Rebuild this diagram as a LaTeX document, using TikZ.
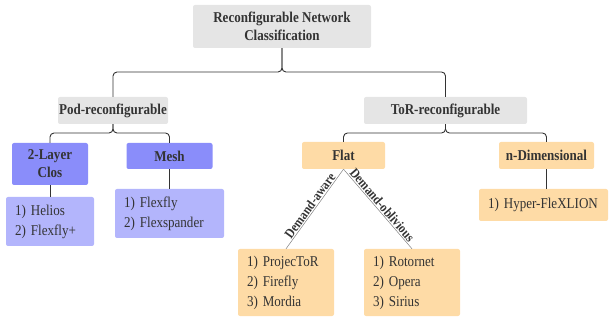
\documentclass[tikz,border=0pt]{standalone}
\usepackage{fontspec}
\setmainfont{Liberation Serif}[FakeStretch=0.87]
\definecolor{txt}{HTML}{333333}
\definecolor{greyfill}{HTML}{E5E5E5}
\definecolor{bluedark}{HTML}{8A8DFA}
\definecolor{bluelight}{HTML}{B3B5FC}
\definecolor{orangefill}{HTML}{FEDBA6}
\definecolor{linecol}{HTML}{333333}
\tikzset{
  catbox/.style={rounded corners=2pt, inner sep=0pt, text=txt, align=center,
    font=\bfseries\fontsize{15}{18}\selectfont},
  listbox/.style={rounded corners=2pt, inner ysep=0pt, inner xsep=9pt, text=txt, align=left,
    font=\fontsize{15}{20}\selectfont},
  conn/.style={draw=linecol, line width=0.9pt, rounded corners=4pt},
  diag/.style={draw=gray, line width=0.5pt},
  lab/.style={text=txt, font=\bfseries\fontsize{13.5}{13.5}\selectfont, inner sep=1pt}
}
\begin{document}
\begin{tikzpicture}[x=1pt,y=-1pt]
\useasboundingbox (0,0) rectangle (610,320);
% category boxes
\node[catbox, fill=greyfill, minimum width=178pt, minimum height=43pt] (root) at (282,26.5) {Reconfigurable Network\\Classification};
\node[catbox, fill=greyfill, minimum width=110pt, minimum height=27pt] (pod) at (113,110.5) {Pod-reconfigurable};
\node[catbox, fill=greyfill, minimum width=163pt, minimum height=27pt] (tor) at (445.5,110.5) {ToR-reconfigurable};
\node[catbox, fill=bluedark, minimum width=76pt, minimum height=42pt] (clos) at (50,164) {2-Layer\\Clos};
\node[catbox, fill=bluedark, minimum width=86pt, minimum height=26pt] (mesh) at (169.5,156) {Mesh};
\node[catbox, fill=orangefill, minimum width=83pt, minimum height=27pt] (flat) at (343.5,155.5) {Flat};
\node[catbox, fill=orangefill, minimum width=95pt, minimum height=27pt] (ndim) at (546.5,155.5) {n-Dimensional};
% list boxes
\node[listbox, fill=bluelight, text width=70pt, minimum height=49pt] (helios) at (50,221.5) {1) Helios\\2) Flexfly+};
\node[listbox, fill=bluelight, text width=91pt, minimum height=49pt] (flexfly) at (169.5,213.5) {1) Flexfly\\2) Flexspander};
\node[listbox, fill=orangefill, text width=111pt, minimum height=32pt] (hyper) at (543.5,205) {1) Hyper-FleXLION};
\node[listbox, fill=orangefill, text width=78pt, minimum height=67pt] (projector) at (286,282.5) {1) ProjecToR\\2) Firefly\\3) Mordia};
\node[listbox, fill=orangefill, text width=78pt, minimum height=67pt] (rotornet) at (412,282.5) {1) Rotornet\\2) Opera\\3) Sirius};
% brace connectors
\coordinate (j1) at (282,72);
\coordinate (j2) at (113,133);
\coordinate (j3) at (445.5,133);
\draw[conn] (root.south) -- (j1) -| (pod.north);
\draw[conn] (root.south) -- (j1) -| (tor.north);
\draw[conn] (pod.south) -- (j2) -| (clos.north);
\draw[conn] (pod.south) -- (j2) -| (mesh.north);
\draw[conn] (tor.south) -- (j3) -| (flat.north);
\draw[conn] (tor.south) -- (j3) -| (ndim.north);
\draw[conn] (clos.south) -- (helios.north);
\draw[conn] (mesh.south) -- (mesh.south |- flexfly.north);
\draw[conn] (ndim.south) -- (ndim.south |- hyper.north);
% diagonal connectors
\draw[diag] (flat.south) -- node[lab, midway, sloped, above] {Demand-aware} (projector.north);
\draw[diag] (flat.south) -- node[lab, midway, sloped, above] {Demand-oblivious} (rotornet.north);
\end{tikzpicture}
\end{document}
